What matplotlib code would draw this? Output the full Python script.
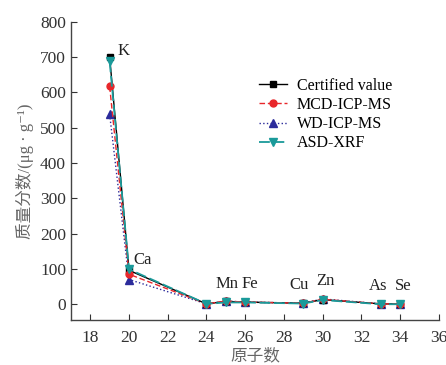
import matplotlib
matplotlib.use("Agg")
import matplotlib.pyplot as plt

plt.rcParams['font.family'] = ['Liberation Serif', 'Noto Sans CJK SC', 'DejaVu Sans']
plt.rcParams['axes.unicode_minus'] = False

# 原子序数和元素
atomic_no = [19, 20, 24, 25, 26, 29, 30, 33, 34]
elements = ['K', 'Ca', '', 'Mn', 'Fe', 'Cu', 'Zn', 'As', 'Se']

# 各方法的质量分数 (µg/g)
certified = [700, 96, 1, 8, 6, 3, 13, 1, 1]
mcd_icp_ms = [617, 85, 1, 9, 6, 3, 14, 1, 1]
wd_icp_ms = [538, 70, 1, 9, 6, 3, 15, 1, 1]
asd_xrf = [688, 99, 1, 5, 5, 2, 12, 0, 0]

fig = plt.figure(figsize=(4.46, 3.65), dpi=100)
ax = fig.add_axes([0.159, 0.123, 0.825, 0.817])

ax.plot(atomic_no, certified, color='black', ls='-', lw=1.0, marker='s', ms=5,
        label='Certified value', zorder=3)
ax.plot(atomic_no, mcd_icp_ms, color='#e8262a', ls=(0, (4, 2)), lw=1.0, marker='o', ms=5,
        label='MCD-ICP-MS', zorder=4)
ax.plot(atomic_no, wd_icp_ms, color='#2b2b9b', ls=':', lw=1.0, marker='^', ms=6,
        label='WD-ICP-MS', zorder=2)
ax.plot(atomic_no, asd_xrf, color='#1a9a9a', ls=(0, (6, 2)), lw=1.3, marker='v', ms=6,
        label='ASD-XRF', zorder=5)

# 元素标注 (偏移, 单位 pt)
offsets = {'K': (10, -1), 'Ca': (10, 2), 'Mn': (1, 7), 'Fe': (3, 7), 'Cu': (-3, 7),
           'Zn': (2, 8), 'As': (-2, 7), 'Se': (2, 7)}
for x, y, el in zip(atomic_no, certified, elements):
    if el:
        dx, dy = offsets[el]
        ax.annotate(el, (x, y), xytext=(dx, dy), textcoords='offset points',
                    ha='center', va='bottom', fontsize=12, color='#222222')

ax.set_xlim(17, 36)
ax.set_ylim(-45, 800)
ax.set_xticks(range(18, 37, 2))
ax.set_yticks(range(0, 801, 100))
ax.tick_params(direction='in', labelsize=12.5, length=4, colors='#333333')
ax.tick_params(axis='x', pad=7)
for s in ['top', 'right']:
    ax.spines[s].set_visible(False)
for s in ['left', 'bottom']:
    ax.spines[s].set_color('#444444')
    ax.spines[s].set_linewidth(1.0)

ax.set_xlabel('原子数', fontsize=12, color='#666666', labelpad=2)
ax.set_ylabel('质量分数/(μg · g⁻¹)', fontsize=12, color='#666666')

ax.legend(loc='upper left', bbox_to_anchor=(0.48, 0.85), frameon=False, fontsize=11.5,
          handlelength=1.8, labelspacing=0.2, borderpad=0.2, handletextpad=0.6)

fig.savefig('out.png', dpi=100)
